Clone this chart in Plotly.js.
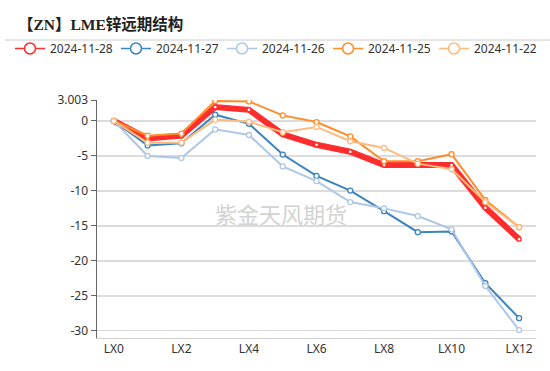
<!DOCTYPE html>
<html>
<head>
<meta charset="utf-8">
<script src="https://cdn.plot.ly/plotly-3.0.1.min.js"></script>
<style>html,body{margin:0;padding:0;background:#fff;}#chart{width:550px;height:371px;}</style>
</head>
<body>
<div id="chart"></div>
<script>
const categories = ["LX0","LX1","LX2","LX3","LX4","LX5","LX6","LX7","LX8","LX9","LX10","LX11","LX12"];
const seriesNames = ["2024-11-28","2024-11-27","2024-11-26","2024-11-25","2024-11-22"];
const s20241128 = [0, -2.5, -2.1, 2.0, 1.6, -1.9, -3.4, -4.4, -6.3, -6.3, -6.3, -12.4, -16.9];
const s20241127 = [0, -3.5, -3.2, 0.9, -0.4, -4.8, -7.85, -9.95, -12.9, -15.9, -15.8, -23.2, -28.2];
const s20241126 = [0, -5.0, -5.3, -1.2, -2.0, -6.5, -8.6, -11.6, -12.5, -13.6, -15.5, -23.6, -29.9];
const s20241125 = [0, -2.1, -1.8, 2.86, 2.8, 0.8, -0.15, -2.2, -5.75, -5.75, -4.75, -11.3, -15.2];
const s20241122 = [0, -3.1, -3.1, 0.2, -0.1, -1.6, -0.85, -2.9, -3.85, -6.1, -6.9, -11.6, -15.2];
const yTickVals = [3.003, 0, -5, -10, -15, -20, -25, -30];
const yTickText = ["3.003", "0", "-5", "-10", "-15", "-20", "-25", "-30"];
const xTickVals = ["LX0","LX2","LX4","LX6","LX8","LX10","LX12"];

const colors = ["#ff2d2d", "#3a84c0", "#aec7e8", "#ff8c2a", "#ffbb7d"];
const widths = [6, 2, 2, 2, 2];
const allSeries = [s20241128, s20241127, s20241126, s20241125, s20241122];

const W = 550, H = 371;
const mL = 97, mR = 14, mT = 100, mB = 33;
const yMin = -31.04, yMax = 3.003;

const traces = allSeries.map((vals, i) => ({
  type: 'scatter', mode: 'lines+markers',
  name: seriesNames[i], x: categories, y: vals, showlegend: false,
  line: {color: colors[i], width: widths[i]},
  marker: {symbol: 'circle', size: i === 0 ? 4 : 5, color: '#fff', line: {color: colors[i], width: 1.3}},
  hoverinfo: 'x+y+name'
}));
// legend-only entries (thin line + open circle icons, as in the reference legend)
const legendTraces = seriesNames.map((nm, i) => ({
  type: 'scatter', mode: 'lines+markers', name: nm, x: [null], y: [null],
  line: {color: colors[i], width: 1.5},
  marker: {symbol: 'circle', size: 11, color: '#fff', line: {color: colors[i], width: 1.5}},
  showlegend: true, hoverinfo: 'skip'
}));
const plotW = W - mL - mR, plotH = H - mT - mB;
const zeroPos = (0 - yMin) / (yMax - yMin);

const layout = {
  width: W, height: H,
  margin: {l: mL, r: mR, t: mT, b: mB, pad: 0, autoexpand: false},
  paper_bgcolor: '#fff', plot_bgcolor: '#fff',
  font: {family: 'Noto Sans, "Noto Sans CJK SC", sans-serif', color: '#333', size: 12},
  title: {
    text: '【ZN】LME锌远期结构',
    font: {family: '"Liberation Serif", "Noto Sans CJK SC", serif', size: 15.5, color: '#222', weight: 'bold'},
    xref: 'container', yref: 'container', x: 18 / W, xanchor: 'left', y: 1 - 25 / H, yanchor: 'middle'
  },
  showlegend: true,
  legend: {
    orientation: 'h', xref: 'paper', yref: 'paper',
    x: (10 - mL) / plotW, xanchor: 'left', y: (H - mB - 34) / plotH, yanchor: 'top',
    font: {size: 12, color: '#333', family: 'Noto Sans, sans-serif'},
    itemwidth: 30, entrywidth: 61, entrywidthmode: 'pixels',
    traceorder: 'normal', bgcolor: 'rgba(0,0,0,0)'
  },
  xaxis: {
    type: 'category', categoryorder: 'array', categoryarray: categories,
    range: [-0.5, categories.length - 0.5],
    tickmode: 'array', tickvals: xTickVals, ticktext: xTickVals,
    ticks: '', showgrid: false, zeroline: false,
    showline: true, linecolor: '#d0d0d0', linewidth: 1,
    tickfont: {size: 12, color: '#333'}, fixedrange: true
  },
  xaxis2: {
    overlaying: 'x', anchor: 'free', position: zeroPos,
    type: 'category', categoryorder: 'array', categoryarray: categories,
    range: [-0.5, categories.length - 0.5],
    tickmode: 'array', tickvals: xTickVals,
    showticklabels: false, ticks: 'outside', ticklen: 5, tickcolor: '#666', tickwidth: 1,
    showgrid: false, zeroline: false, showline: true, linecolor: '#666', linewidth: 1,
    fixedrange: true
  },
  yaxis: {
    range: [yMin, yMax],
    tickmode: 'array', tickvals: yTickVals, ticktext: yTickText,
    ticks: 'outside', ticklen: 5, tickcolor: '#666',
    showgrid: true, gridcolor: '#dcdcdc', gridwidth: 1.5,
    zeroline: false,
    showline: true, linecolor: '#666', linewidth: 1.5,
    tickfont: {size: 12, color: '#333'}, fixedrange: true
  },
  shapes: [{
    type: 'line', xref: 'paper', yref: 'paper',
    x0: (5 - mL) / plotW, x1: (W - mL) / plotW,
    y0: (H - mB - 40) / plotH, y1: (H - mB - 40) / plotH,
    line: {color: '#cccccc', width: 1}
  }],
  annotations: [{
    text: '紫金天风期货', xref: 'paper', yref: 'paper',
    x: (281 - mL) / plotW, y: (H - mB - 213) / plotH,
    showarrow: false,
    font: {family: '"Noto Sans CJK SC", sans-serif', size: 22, color: '#d3d3d3'}
  }]
};

Plotly.newPlot('chart', traces.concat(legendTraces), layout, {displayModeBar: false, staticPlot: true});
</script>
</body>
</html>
